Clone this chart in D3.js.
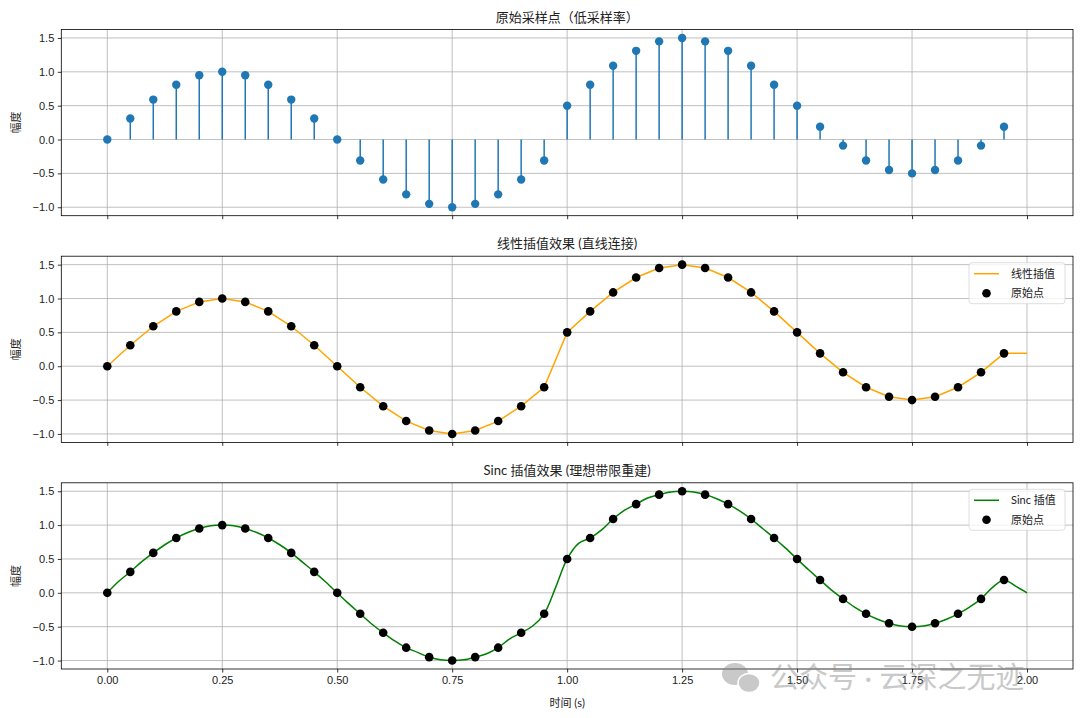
<!DOCTYPE html>
<html>
<head>
<meta charset="utf-8">
<script src="https://cdn.jsdelivr.net/npm/d3@7"></script>
<style>
  body { margin: 0; background: #fff; }
  svg { display: block; font-family: Lato, "Noto Sans CJK SC", sans-serif; }
</style>
</head>
<body>
<div id="chart"></div>
<script>
// Original samples (low sampling rate)
const sampleT = [0.00, 0.05, 0.10, 0.15, 0.20, 0.25, 0.30, 0.35, 0.40, 0.45,
                 0.50, 0.55, 0.60, 0.65, 0.70, 0.75, 0.80, 0.85, 0.90, 0.95,
                 1.00, 1.05, 1.10, 1.15, 1.20, 1.25, 1.30, 1.35, 1.40, 1.45,
                 1.50, 1.55, 1.60, 1.65, 1.70, 1.75, 1.80, 1.85, 1.90, 1.95];
const sampleY = [0.00, 0.31, 0.59, 0.81, 0.95, 1.00, 0.95, 0.81, 0.59, 0.31,
                 0.00, -0.31, -0.59, -0.81, -0.95, -1.00, -0.95, -0.81, -0.59, -0.31,
                 0.50, 0.81, 1.09, 1.31, 1.45, 1.50, 1.45, 1.31, 1.09, 0.81,
                 0.50, 0.19, -0.09, -0.31, -0.45, -0.50, -0.45, -0.31, -0.09, 0.19];

// Linear interpolation holds the last value up to t = 2.0
const linearT = sampleT.concat([2.00]);
const linearY = sampleY.concat([0.19]);

// Sinc reconstruction
const sincT = [0.000, 0.025, 0.050, 0.075, 0.100, 0.125, 0.150, 0.175, 0.200, 0.225,
               0.250, 0.275, 0.300, 0.325, 0.350, 0.375, 0.400, 0.425, 0.450, 0.475,
               0.500, 0.525, 0.550, 0.575, 0.600, 0.625, 0.650, 0.675, 0.700, 0.725,
               0.750, 0.775, 0.800, 0.825, 0.850, 0.875, 0.900, 0.925, 0.950, 0.975,
               1.000, 1.025, 1.050, 1.075, 1.100, 1.125, 1.150, 1.175, 1.200, 1.225,
               1.250, 1.275, 1.300, 1.325, 1.350, 1.375, 1.400, 1.425, 1.450, 1.475,
               1.500, 1.525, 1.550, 1.575, 1.600, 1.625, 1.650, 1.675, 1.700, 1.725,
               1.750, 1.775, 1.800, 1.825, 1.850, 1.875, 1.900, 1.925, 1.950, 1.975, 2.000];
const sincY = [0.00, 0.17, 0.31, 0.46, 0.59, 0.71, 0.81, 0.89, 0.95, 0.99,
               1.00, 0.99, 0.95, 0.89, 0.81, 0.71, 0.59, 0.45, 0.31, 0.16,
               0.00, -0.16, -0.31, -0.46, -0.59, -0.71, -0.81, -0.88, -0.95, -0.99,
               -1.00, -0.99, -0.95, -0.90, -0.81, -0.68, -0.59, -0.49, -0.31, 0.08,
               0.50, 0.73, 0.81, 0.93, 1.09, 1.22, 1.31, 1.40, 1.45, 1.49,
               1.50, 1.49, 1.45, 1.39, 1.31, 1.21, 1.09, 0.95, 0.81, 0.66,
               0.50, 0.34, 0.19, 0.04, -0.09, -0.21, -0.31, -0.39, -0.45, -0.49,
               -0.50, -0.49, -0.45, -0.39, -0.31, -0.21, -0.09, 0.08, 0.19, 0.10, 0.00];

const xTicks = [0.00, 0.25, 0.50, 0.75, 1.00, 1.25, 1.50, 1.75, 2.00];
const yTicks = [-1.0, -0.5, 0.0, 0.5, 1.0, 1.5];
const titles = ["原始采样点（低采样率）", "线性插值效果 (直线连接)", "Sinc 插值效果 (理想带限重建)"];

const width = 1080, height = 718;
const left = 61.3, right = 1073;
const panelTops = [29.5, 256.2, 482.8];
const panelH = 186.2;

const svg = d3.select("#chart").append("svg")
    .attr("width", width)
    .attr("height", height);

const x = d3.scaleLinear().domain([-0.1, 2.1]).range([left, right]);
const fmtY = v => d3.format(".1f")(v).replace("-", "\u2212");
const fmtX = d3.format(".2f");

panelTops.forEach((top, i) => {
    const y = d3.scaleLinear().domain([-1.125, 1.625]).range([top + panelH, top]);
    const g = svg.append("g");

    // Grid lines
    g.append("g").selectAll("line").data(xTicks).join("line")
        .attr("x1", d => x(d)).attr("x2", d => x(d))
        .attr("y1", top).attr("y2", top + panelH)
        .attr("stroke", "#b0b0b0").attr("stroke-width", 0.8);
    g.append("g").selectAll("line").data(yTicks).join("line")
        .attr("x1", left).attr("x2", right)
        .attr("y1", d => y(d)).attr("y2", d => y(d))
        .attr("stroke", "#b0b0b0").attr("stroke-width", 0.8);

    // Axes
    const yAxis = g.append("g")
        .attr("transform", `translate(${left},0)`)
        .call(d3.axisLeft(y).tickValues(yTicks).tickFormat(fmtY).tickSize(3.5).tickPadding(3.5));
    const xAxis = g.append("g")
        .attr("transform", `translate(0,${top + panelH})`)
        .call(d3.axisBottom(x).tickValues(xTicks).tickFormat(i === 2 ? fmtX : "").tickSize(3.5).tickPadding(3.5));
    [yAxis, xAxis].forEach(a => {
        a.select(".domain").remove();
        a.selectAll("line").attr("stroke", "#000").attr("stroke-width", 0.8);
        a.selectAll("text").style("font-size", "11px").attr("fill", "#222");
    });

    // Data
    if (i === 0) {
        g.append("g").selectAll("line").data(sampleT).join("line")
            .attr("x1", d => x(d)).attr("x2", d => x(d))
            .attr("y1", y(0)).attr("y2", (d, j) => y(sampleY[j]))
            .attr("stroke", "#1f77b4").attr("stroke-width", 1.5);
        g.append("g").selectAll("circle").data(sampleT).join("circle")
            .attr("cx", d => x(d)).attr("cy", (d, j) => y(sampleY[j]))
            .attr("r", 4.2).attr("fill", "#1f77b4");
    } else {
        const lt = i === 1 ? linearT : sincT;
        const ly = i === 1 ? linearY : sincY;
        const line = d3.line()
            .x(d => x(d))
            .y((d, j) => y(ly[j]))
            .curve(i === 1 ? d3.curveLinear : d3.curveCatmullRom);
        g.append("path").datum(lt)
            .attr("d", line)
            .attr("fill", "none")
            .attr("stroke", i === 1 ? "orange" : "green")
            .attr("stroke-width", 1.5);
        g.append("g").selectAll("circle").data(sampleT).join("circle")
            .attr("cx", d => x(d)).attr("cy", (d, j) => y(sampleY[j]))
            .attr("r", 4.3).attr("fill", "#000");

        // Legend
        const lx = 969, ly0 = top + 6.5;
        const lg = g.append("g");
        lg.append("rect")
            .attr("x", lx).attr("y", ly0)
            .attr("width", 96).attr("height", 41)
            .attr("rx", 3)
            .attr("fill", "#fff").attr("fill-opacity", 0.8)
            .attr("stroke", "#d6d6d6").attr("stroke-width", 0.8);
        lg.append("line")
            .attr("x1", lx + 5).attr("x2", lx + 30)
            .attr("y1", ly0 + 11).attr("y2", ly0 + 11)
            .attr("stroke", i === 1 ? "orange" : "green").attr("stroke-width", 1.5);
        lg.append("circle")
            .attr("cx", lx + 17.5).attr("cy", ly0 + 30.5)
            .attr("r", 4.3).attr("fill", "#000");
        lg.selectAll("text").data([i === 1 ? "线性插值" : "Sinc 插值", "原始点"]).join("text")
            .attr("x", lx + 42)
            .attr("y", (d, j) => ly0 + 11 + j * 19.5)
            .attr("dy", "0.35em")
            .style("font-size", "11px")
            .attr("fill", "#222")
            .text(d => d);
    }

    // Spines
    g.append("rect")
        .attr("x", left).attr("y", top)
        .attr("width", right - left).attr("height", panelH)
        .attr("fill", "none").attr("stroke", "#000").attr("stroke-width", 0.8);

    // Title
    g.append("text")
        .attr("x", (left + right) / 2)
        .attr("y", top - 8)
        .attr("text-anchor", "middle")
        .style("font-size", "13px")
        .attr("fill", "#222")
        .text(titles[i]);

    // Y label
    g.append("text")
        .attr("transform", `translate(20,${top + panelH / 2}) rotate(-90)`)
        .attr("text-anchor", "middle")
        .style("font-size", "11px")
        .attr("fill", "#222")
        .text("幅度");
});

// X label
svg.append("text")
    .attr("x", (left + right) / 2)
    .attr("y", 707)
    .attr("text-anchor", "middle")
    .style("font-size", "11px")
    .attr("fill", "#222")
    .text("时间 (s)");

// Watermark
const wm = svg.append("g").attr("opacity", 0.45);
wm.append("ellipse").attr("cx", 735).attr("cy", 674).attr("rx", 13).attr("ry", 11).attr("fill", "#888");
wm.append("ellipse").attr("cx", 749).attr("cy", 683).attr("rx", 11).attr("ry", 9.5).attr("fill", "#888")
    .attr("stroke", "#fff").attr("stroke-width", 1.5);
wm.append("text")
    .attr("x", 770).attr("y", 678)
    .attr("dy", "0.35em")
    .style("font-size", "29px")
    .attr("fill", "#888")
    .text("公众号 · 云深之无迹");
</script>
</body>
</html>
